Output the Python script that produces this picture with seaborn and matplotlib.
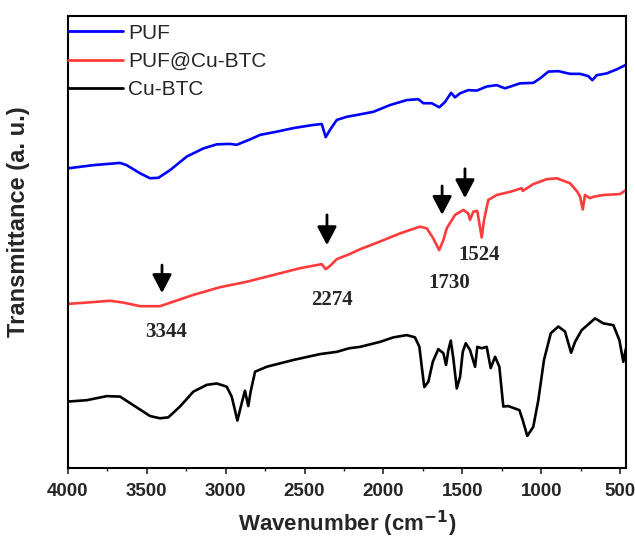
import matplotlib
matplotlib.use("Agg")
import matplotlib.pyplot as plt
import seaborn as sns
import pandas as pd
from matplotlib.ticker import MultipleLocator

# ---- data (wavenumber cm^-1, transmittance a.u.) ----
puf_wn = [4000, 3840, 3670, 3628, 3543, 3480, 3427, 3353, 3247, 3142, 3057, 2973, 2930,
          2846, 2782, 2677, 2571, 2445, 2391, 2366, 2339, 2296, 2233, 2169, 2064, 1958,
          1852, 1779, 1747, 1694, 1646, 1609, 1571, 1546, 1514, 1462, 1408, 1345, 1282,
          1229, 1134, 1050, 1007, 954, 891, 817, 753, 701, 675, 648, 584, 521, 462]
puf_t = [66.3, 67.0, 67.5, 67.0, 65.2, 64.1, 64.2, 65.9, 68.9, 70.7, 71.6, 71.7, 71.5,
         72.7, 73.7, 74.4, 75.2, 75.9, 76.1, 73.2, 74.8, 77.0, 77.7, 78.1, 78.8, 80.3,
         81.4, 81.6, 80.7, 80.7, 79.8, 81.0, 83.0, 82.0, 82.9, 83.6, 83.5, 84.4, 84.7,
         84.0, 85.1, 85.2, 86.2, 87.7, 87.8, 87.2, 87.2, 86.7, 85.8, 86.9, 87.3, 88.2, 89.2]

pufcu_wn = [4000, 3881, 3734, 3649, 3543, 3417, 3332, 3205, 3036, 2867, 2698, 2529, 2391,
            2366, 2339, 2296, 2216, 2148, 2022, 1895, 1768, 1725, 1684, 1647, 1620, 1599,
            1546, 1493, 1462, 1451, 1430, 1405, 1377, 1362, 1335, 1282, 1197, 1123, 1117,
            1050, 965, 901, 817, 770, 753, 736, 722, 690, 669, 606, 500, 462]
pufcu_t = [36.3, 36.6, 37.0, 36.6, 35.8, 35.8, 36.8, 38.3, 40.0, 41.2, 42.7, 44.2, 45.1,
           44.0, 44.7, 46.2, 47.3, 48.4, 50.1, 51.9, 53.4, 53.0, 50.8, 48.2, 50.4, 53.0,
           56.0, 57.1, 56.3, 54.9, 56.7, 56.9, 51.0, 54.9, 59.3, 60.4, 61.1, 61.9, 61.3,
           62.8, 63.9, 64.1, 63.0, 61.1, 60.0, 57.2, 60.4, 59.7, 60.0, 60.4, 60.6, 61.5]

cubtc_wn = [4000, 3881, 3755, 3670, 3586, 3480, 3417, 3364, 3290, 3205, 3120, 3057, 2994,
            2962, 2926, 2899, 2878, 2857, 2842, 2814, 2740, 2571, 2402, 2296, 2216, 2148,
            2022, 1937, 1852, 1800, 1772, 1757, 1741, 1715, 1687, 1652, 1620, 1603, 1588,
            1573, 1557, 1535, 1514, 1497, 1478, 1451, 1419, 1405, 1377, 1345, 1320, 1292,
            1265, 1240, 1208, 1138, 1117, 1088, 1050, 1018, 982, 939, 891, 849, 810, 785,
            743, 658, 606, 542, 504, 479, 462]
cubtc_t = [14.7, 15.0, 15.9, 15.8, 13.9, 11.5, 11.0, 11.2, 13.6, 16.9, 18.4, 18.7, 18.0,
           15.8, 10.5, 14.3, 17.1, 13.7, 16.9, 21.3, 22.4, 23.9, 25.2, 25.7, 26.5, 26.8,
           27.9, 28.9, 29.4, 28.9, 26.8, 22.4, 17.9, 19.1, 23.5, 26.3, 25.4, 22.8, 26.1,
           28.2, 24.3, 17.6, 20.2, 25.7, 27.6, 26.1, 22.4, 26.8, 26.5, 26.8, 22.1, 24.6,
           22.4, 13.6, 13.7, 12.8, 10.6, 7.1, 9.1, 15.0, 23.9, 29.8, 31.3, 30.2, 25.5, 27.9,
           30.5, 33.1, 32.0, 31.6, 28.3, 23.5, 26.5]

series_names = ["PUF", "PUF@Cu-BTC", "Cu-BTC"]
series_colors = ["#0000ff", "#ff3b3b", "#000000"]

peak_labels = ["3344", "2274", "1730", "1524"]
arrow_x = [3404, 2358, 1628, 1483]
arrow_top = [44.9, 56.0, 62.4, 66.2]
arrow_bottom = [38.7, 49.3, 56.0, 59.7]
label_x = [3379, 2326, 1584, 1394]
label_y = [30.1, 37.2, 40.9, 47.1]

xticks = [4000, 3500, 3000, 2500, 2000, 1500, 1000, 500]

df = pd.concat([
    pd.DataFrame({"wn": puf_wn, "t": puf_t, "s": series_names[0]}),
    pd.DataFrame({"wn": pufcu_wn, "t": pufcu_t, "s": series_names[1]}),
    pd.DataFrame({"wn": cubtc_wn, "t": cubtc_t, "s": series_names[2]}),
])

sns.set_style("white")
plt.rcParams["font.family"] = ["Liberation Sans", "DejaVu Sans"]

fig = plt.figure(figsize=(6.35, 5.43), dpi=100)
ax = fig.add_axes([68/635, 75/543, 558/635, 452/543])

sns.lineplot(data=df, x="wn", y="t", hue="s", palette=series_colors,
             hue_order=series_names, estimator=None, sort=False, lw=1.9, ax=ax)

ax.set_xlim(4000, 462)
ax.set_ylim(0, 100)
ax.set_xticks(xticks)
ax.set_xticklabels([str(v) for v in xticks], fontsize=13.5, fontweight="bold")
ax.xaxis.set_minor_locator(MultipleLocator(250))
ax.tick_params(axis="x", which="major", direction="out", length=4, width=1.2,
               bottom=True, pad=7)
ax.tick_params(axis="x", which="minor", direction="out", length=2.5, width=1.0,
               bottom=True)
ax.set_yticks([])
for sp in ax.spines.values():
    sp.set_linewidth(1.5)
    sp.set_color("black")

ax.set_xlabel("Wavenumber (cm$^{\\mathbf{-1}}$)", fontsize=16, fontweight="bold", labelpad=6)
ax.set_ylabel("Transmittance (a. u.)", fontsize=17, fontweight="bold")
ax.yaxis.set_label_coords(-0.068, 0.546)

leg = ax.legend(loc="upper left", bbox_to_anchor=(0, 0.983), frameon=False,
                fontsize=15, handlelength=2.65, handletextpad=0.22, labelspacing=0.44,
                borderpad=0, borderaxespad=0)
for h in leg.get_lines():
    h.set_linewidth(2.0)

for i in range(len(peak_labels)):
    ax.annotate("", xy=(arrow_x[i], arrow_bottom[i]), xytext=(arrow_x[i], arrow_top[i]),
                arrowprops=dict(arrowstyle="-|>,head_width=0.42,head_length=0.8",
                                color="black", lw=2, mutation_scale=14,
                                shrinkA=0, shrinkB=0))
    ax.text(label_x[i], label_y[i], peak_labels[i], ha="center", va="center",
            fontsize=15, fontweight="bold", family=["Liberation Serif", "DejaVu Serif"])

fig.savefig("out.png", dpi=100)
